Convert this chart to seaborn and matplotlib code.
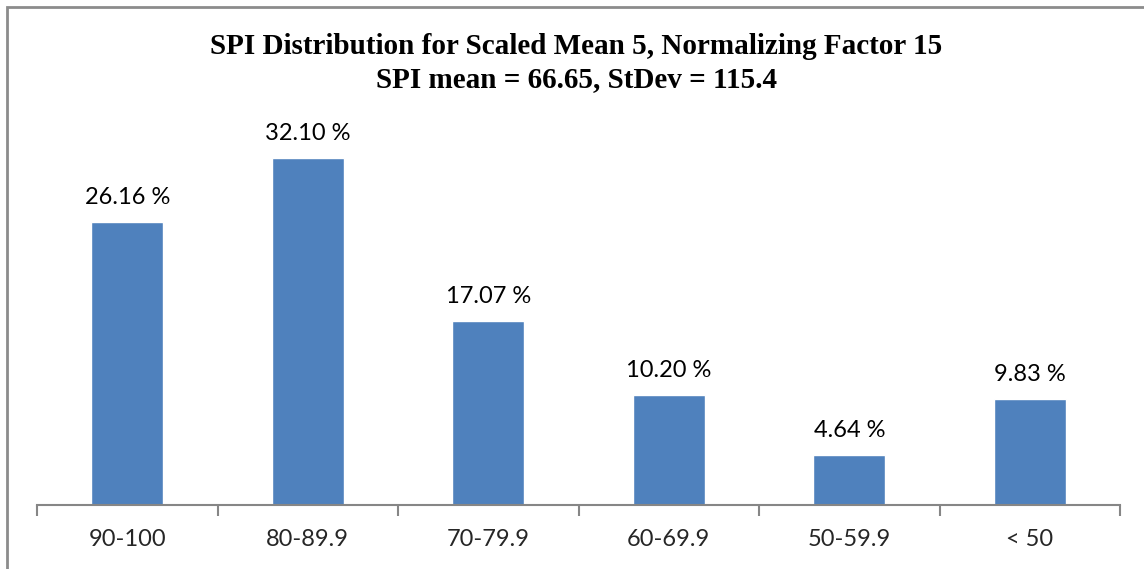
import matplotlib
matplotlib.use("Agg")
import matplotlib.pyplot as plt
import seaborn as sns
import pandas as pd
from matplotlib.patches import Rectangle

# data
grades = ["90-100", "80-89.9", "70-79.9", "60-69.9", "50-59.9", "< 50"]
share = [26.16, 32.10, 17.07, 10.20, 4.64, 9.83]

df = pd.DataFrame({"Grade": grades, "Share": share})

sns.set_style("white")
plt.rcParams["font.family"] = ["Lato", "DejaVu Sans"]

fig = plt.figure(figsize=(11.44, 5.69), dpi=100)
ax = fig.add_axes([37 / 1144, 1 - 505 / 569, (1120 - 37) / 1144, (505 - 127) / 569])

sns.barplot(x="Grade", y="Share", data=df, color="#4F81BD", saturation=1,
            width=0.4, ax=ax)

ax.set_xlim(-0.5, len(grades) - 0.5)
ax.set_ylim(0, 35)

for i, v in enumerate(share):
    ax.text(i, v + 1.3, "{:.2f} %".format(v), ha="center", va="bottom",
            fontsize=17, color="black")

# axis styling: only the bottom line, ticks between categories
for s in ["left", "right", "top"]:
    ax.spines[s].set_visible(False)
ax.spines["bottom"].set_color("#868686")
ax.spines["bottom"].set_linewidth(1.5)
ax.set_yticks([])
ax.set_xticks(range(len(grades)))
ax.set_xticklabels(grades, fontsize=17)
ax.tick_params(axis="x", length=0, pad=17)
ax.set_xticks([i - 0.5 for i in range(len(grades) + 1)], minor=True)
ax.tick_params(axis="x", which="minor", bottom=True, length=8, width=1.5,
               color="#868686", direction="out")
ax.set_xlabel("")
ax.set_ylabel("")

fig.text(0.504, 1 - 47 / 569,
         "SPI Distribution for Scaled Mean 5, Normalizing Factor 15",
         ha="center", va="center", fontsize=21, fontweight="bold",
         family="Liberation Serif", color="black")
fig.text(0.504, 1 - 80 / 569, "SPI mean = 66.65, StDev = 115.4",
         ha="center", va="center", fontsize=21, fontweight="bold",
         family="Liberation Serif", color="black")

# chart frame (cut off on the right and bottom)
fig.patches.append(Rectangle((7 / 1144, -0.1), 1.2, 1.1 - 7 / 569,
                             transform=fig.transFigure, fill=False,
                             edgecolor="#8c8c8c", linewidth=2))

fig.savefig("out.png", dpi=100)
